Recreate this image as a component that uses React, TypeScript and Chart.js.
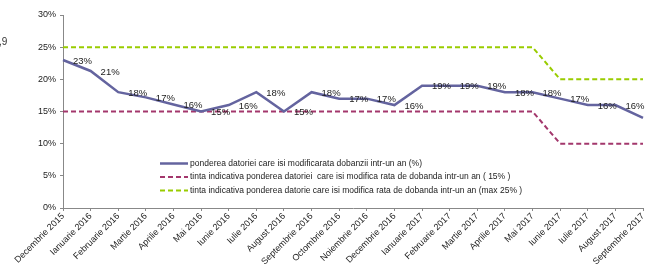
import React, { useEffect, useRef } from "react";
import { Chart, registerables } from "chart.js";

Chart.register(...registerables);

const categories = [
  "Decembrie 2015", "Ianuarie 2016", "Februarie 2016", "Martie 2016", "Aprilie 2016", "Mai 2016",
  "Iunie 2016", "Iulie 2016", "August 2016", "Septembrie 2016", "Octombrie 2016", "Noiembrie 2016",
  "Decembrie 2016", "Ianuarie 2017", "Februarie 2017", "Martie 2017", "Aprilie 2017", "Mai 2017",
  "Iunie 2017", "Iulie 2017", "August 2017", "Septembrie 2017",
];

const pondere = [23.0, 21.3, 18.0, 17.2, 16.1, 15.0, 16.0, 18.0, 15.0, 18.0, 17.0, 17.0, 16.0, 19.0, 19.0, 19.0, 18.0, 18.0, 17.0, 16.0, 16.0, 14.0];
const tinta15 = [15, 15, 15, 15, 15, 15, 15, 15, 15, 15, 15, 15, 15, 15, 15, 15, 15, 15, 10, 10, 10, 10];
const tintaMax25 = [25, 25, 25, 25, 25, 25, 25, 25, 25, 25, 25, 25, 25, 25, 25, 25, 25, 25, 20, 20, 20, 20];
const pondereLabels = ["23%", "21%", "18%", "17%", "16%", "15%", "16%", "18%", "15%", "18%", "17%", "17%", "16%", "19%", "19%", "19%", "18%", "18%", "17%", "16%", "16%", ""];

const seriesNames = [
  "ponderea datoriei care isi modificarata dobanzii intr-un an (%)",
  "tinta indicativa ponderea datoriei  care isi modifica rata de dobanda intr-un an ( 15% )",
  "tinta indicativa ponderea datorie care isi modifica rata de dobanda intr-un an (max 25% )",
];

const yTicks = [0, 5, 10, 15, 20, 25, 30];

const FONT = "'Liberation Sans', Arial, sans-serif";
const BLUE = "#64649f";
const MAGENTA = "#a3376c";
const GREEN = "#99cc00";

export default function App() {
  const ref = useRef<HTMLCanvasElement | null>(null);

  useEffect(() => {
    if (!ref.current) return;

    const labelsPlugin = {
      id: "labelsAndLegend",
      afterDatasetsDraw(chart: any) {
        const ctx = chart.ctx;
        const meta = chart.getDatasetMeta(0);
        ctx.save();
        ctx.font = `9.5px ${FONT}`;
        ctx.fillStyle = "#222";
        ctx.textAlign = "left";
        ctx.textBaseline = "middle";
        meta.data.forEach((pt: any, i: number) => {
          const t = pondereLabels[i];
          if (t) ctx.fillText(t, pt.x + 10, pt.y + 1);
        });
        ctx.restore();
      },
      afterDraw(chart: any) {
        const ctx = chart.ctx;
        ctx.save();
        const rows = [163.5, 177, 190.5];
        chart.data.datasets.forEach((ds: any, i: number) => {
          const y = rows[i];
          ctx.beginPath();
          ctx.strokeStyle = ds.borderColor;
          ctx.lineWidth = ds.borderWidth;
          ctx.setLineDash(ds.borderDash || []);
          ctx.moveTo(160, y);
          ctx.lineTo(188, y);
          ctx.stroke();
          ctx.setLineDash([]);
          ctx.font = `8.5px ${FONT}`;
          ctx.fillStyle = "#222";
          ctx.textAlign = "left";
          ctx.textBaseline = "middle";
          ctx.fillText(seriesNames[i], 190, y);
        });
        ctx.font = `10px ${FONT}`;
        ctx.fillStyle = "#333";
        ctx.textBaseline = "middle";
        ctx.fillText(",9", -1, 42);
        ctx.restore();
      },
    };

    const chart = new Chart(ref.current, {
      type: "line",
      data: {
        labels: categories,
        datasets: [
          {
            label: seriesNames[0],
            data: pondere,
            borderColor: BLUE,
            backgroundColor: BLUE,
            borderWidth: 2.5,
            pointRadius: 0,
            tension: 0,
          },
          {
            label: seriesNames[1],
            data: tinta15,
            borderColor: MAGENTA,
            backgroundColor: MAGENTA,
            borderWidth: 2,
            borderDash: [5, 3],
            pointRadius: 0,
            tension: 0,
          },
          {
            label: seriesNames[2],
            data: tintaMax25,
            borderColor: GREEN,
            backgroundColor: GREEN,
            borderWidth: 2,
            borderDash: [5, 3],
            pointRadius: 0,
            tension: 0,
          },
        ],
      },
      options: {
        animation: false,
        responsive: false,
        maintainAspectRatio: false,
        layout: { padding: { top: 15, right: 17, left: 0, bottom: 0 } },
        plugins: {
          legend: { display: false },
          tooltip: { enabled: false },
        },
        scales: {
          x: {
            offset: false,
            grid: { drawOnChartArea: false, drawTicks: true, tickLength: 3, color: "#888" },
            border: { display: true, color: "#888", width: 1 },
            ticks: {
              autoSkip: false,
              minRotation: 45,
              maxRotation: 45,
              padding: 0,
              color: "#222",
              font: { family: FONT, size: 9 },
            },
            afterFit(scale: any) {
              scale.height = 58;
            },
          },
          y: {
            min: 0,
            max: 30,
            afterBuildTicks(scale: any) {
              scale.ticks = yTicks.map((v) => ({ value: v }));
            },
            grid: { drawOnChartArea: false, drawTicks: true, tickLength: 3, color: "#888" },
            border: { display: true, color: "#888", width: 1 },
            ticks: {
              padding: 4,
              color: "#222",
              font: { family: FONT, size: 9 },
              callback: (v: any) => `${v}%`,
            },
            afterFit(scale: any) {
              scale.width = 63;
            },
          },
        },
      },
      plugins: [labelsPlugin],
    });

    return () => chart.destroy();
  }, []);

  return (
    <div style={{ position: "fixed", left: 0, top: 0, width: 660, height: 266, background: "#fff" }}>
      <canvas ref={ref} width={660} height={266} style={{ width: 660, height: 266 }} />
    </div>
  );
}
